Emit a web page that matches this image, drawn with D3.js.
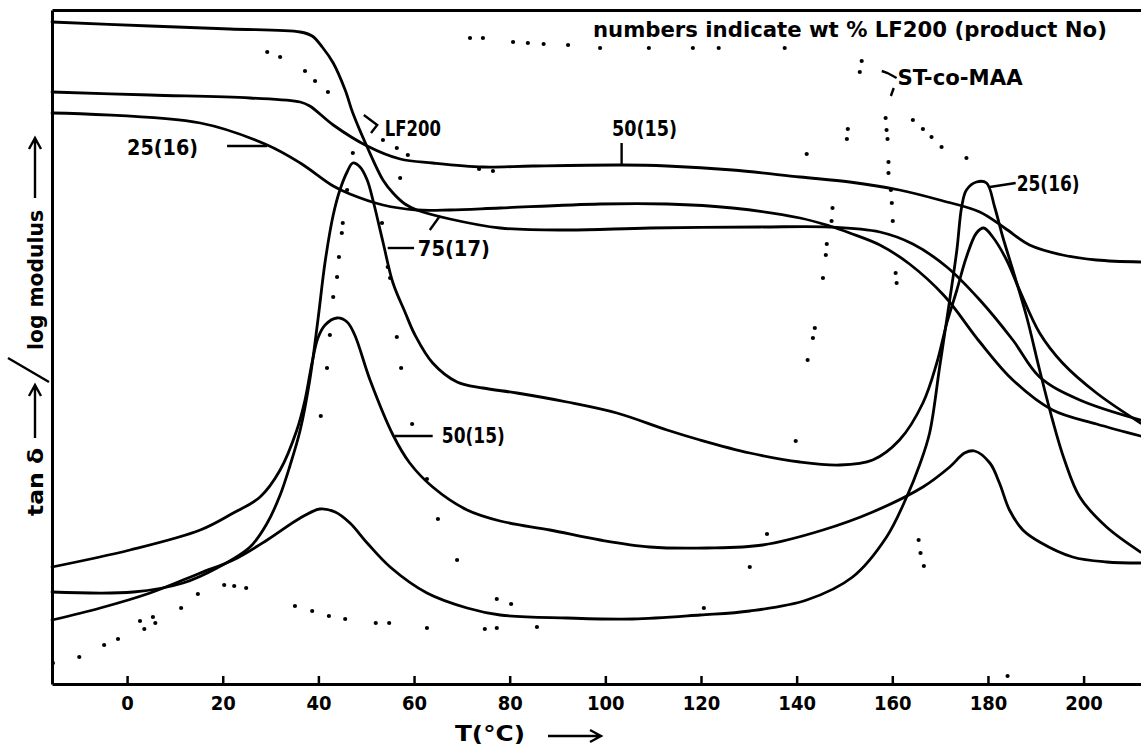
<!DOCTYPE html>
<html lang="en">
<head>
<meta charset="utf-8">
<style>
  body { margin: 0; background: white; }
  svg { display: block; background: white; font-family: 'DejaVu Sans Condensed', 'DejaVu Sans', sans-serif; }
  .curve { fill: none; stroke: black; stroke-width: 2.8px; stroke-linejoin: round; stroke-linecap: round; }
  .dot { fill: black; }
  .frame path.domain { stroke: black; stroke-width: 3px; }
  .frame .tick line { stroke: black; stroke-width: 2.5px; }
  .frame .tick text { font-size: 20px; font-weight: bold; fill: black; font-family: 'DejaVu Sans Condensed', 'DejaVu Sans', sans-serif; }
  .lead { fill: none; stroke: black; stroke-width: 2.4px; }
  .lbl { font-size: 21px; font-weight: bold; fill: black; }
</style>
</head>
<body>
<svg width="1141" height="748"></svg>
<script src="https://cdn.jsdelivr.net/npm/d3@7"></script>
<script>

// temperature (deg C) vs relative height (no y ticks in the original, arbitrary units)
var tickTemps = [0, 20, 40, 60, 80, 100, 120, 140, 160, 180, 200];

// log modulus curves
var mod75 = [[-15.7,66.2],[4.8,65.8],[21.5,65.5],[36.2,65.2],[38.7,64.8],[40.8,63.7],[43.1,62.1],[45.6,59.4],[47.2,57.1],[50.2,53.7],[53.5,50.4],[55.6,49.1],[58.1,48.0],[60.6,47.4],[67.5,46.5],[78.0,45.6],[92.0,45.4],[109.3,45.6],[132.3,45.7],[146.9,45.7],[157.4,45.2],[164.3,44.0],[171.4,41.7],[178.3,38.4],[185.2,34.4],[190.8,30.7],[199.2,28.4],[211.9,26.4]];
var mod50 = [[-15.7,59.2],[4.8,58.9],[25.7,58.6],[36.2,58.2],[38.2,57.8],[43.1,55.9],[50.2,53.8],[57.1,52.5],[63.9,52.1],[74.4,51.7],[84.8,51.8],[103.4,51.9],[112.9,51.8],[126.6,51.4],[140.7,50.7],[151.1,50.2],[161.5,49.4],[169.9,48.4],[178.3,47.2],[183.5,45.6],[188.7,43.9],[195.6,42.9],[202.7,42.4],[211.9,42.2]];
var mod25 = [[-15.7,57.1],[15.3,56.1],[29.3,53.9],[36.2,52.1],[43.1,49.8],[46.6,49.0],[53.5,47.9],[60.6,47.4],[67.5,47.4],[78.0,47.6],[98.9,48.0],[112.9,48.0],[126.6,47.6],[140.7,46.6],[146.9,45.8],[151.1,45.1],[157.4,43.9],[163.6,42.0],[170.9,38.8],[178.3,34.2],[185.2,30.4],[193.5,27.4],[202.7,26.0],[211.9,24.8]];

// tan delta curves
var tan50 = [[-15.7,11.7],[0.6,13.4],[15.3,15.4],[22.2,17.1],[27.8,18.7],[32.0,21.4],[35.5,25.4],[37.2,28.4],[38.7,32.2],[39.9,34.6],[41.4,35.9],[43.9,36.6],[46.0,36.2],[47.6,34.9],[50.8,30.4],[55.6,24.9],[59.1,22.1],[63.9,19.7],[71.1,17.4],[78.0,16.3],[88.4,15.4],[98.9,14.4],[109.3,13.7],[121.2,13.6],[132.9,13.9],[145.5,15.4],[155.9,17.2],[166.4,19.7],[172.0,21.7],[175.1,23.1],[177.2,23.3],[180.4,22.1],[182.4,20.1],[184.5,17.4],[187.3,15.4],[190.8,14.2],[197.7,12.7],[204.8,12.2],[211.9,12.1]];
var tan75 = [[-15.7,9.2],[1.3,9.2],[11.7,10.1],[18.8,11.6],[25.7,13.7],[29.3,16.1],[32.0,18.9],[34.1,21.9],[36.2,25.4],[38.2,30.4],[39.9,36.4],[41.4,42.2],[43.1,46.9],[44.5,49.4],[46.0,51.2],[47.2,52.1],[48.7,51.7],[50.2,50.4],[51.4,48.4],[53.5,44.2],[55.6,40.1],[58.1,37.2],[60.2,34.9],[63.9,32.1],[69.0,30.2],[74.4,29.6],[81.5,29.1],[92.0,28.2],[102.4,27.1],[112.9,25.4],[119.8,24.4],[130.2,23.1],[140.7,22.2],[149.0,21.9],[155.9,22.4],[161.5,24.4],[166.4,28.1],[169.3,32.1],[171.4,36.1],[173.5,39.4],[175.5,42.7],[177.6,45.1],[179.1,45.6],[181.0,44.7],[183.9,42.4],[186.6,39.4],[190.8,35.1],[195.6,32.1],[202.7,29.1],[211.9,26.1]];
var tan25 = [[-15.7,6.4],[-5.6,7.6],[4.8,9.1],[15.3,11.1],[22.2,12.4],[29.3,14.4],[36.2,16.6],[40.3,17.5],[43.5,17.2],[46.6,16.1],[50.2,14.1],[55.0,11.7],[62.7,9.1],[71.1,7.6],[78.0,6.9],[92.0,6.6],[105.7,6.5],[119.8,6.9],[130.2,7.3],[142.1,8.4],[151.7,10.7],[158.8,14.7],[163.0,18.7],[165.7,21.9],[167.8,25.1],[169.9,31.7],[172.0,38.4],[173.5,43.4],[174.5,47.7],[175.5,49.4],[177.6,50.2],[179.7,50.1],[181.4,47.7],[183.1,44.7],[185.2,41.4],[188.1,36.7],[190.8,31.4],[193.5,26.4],[196.0,22.4],[199.2,18.7],[204.8,15.7],[211.9,13.2]];

// dotted curves of the pure components (each dot)
var lf200Dots = [[-15.5,2.1],[-10.0,2.7],[-4.8,3.9],[-1.9,4.5],[2.7,6.3],[3.6,5.5],[5.4,6.7],[5.9,6.1],[11.3,7.6],[14.8,9.0],[20.3,9.9],[22.4,9.8],[24.9,9.6],
  [40.5,26.8],[41.8,31.6],[42.4,34.9],[43.1,38.7],[43.9,40.7],[44.3,42.7],[44.9,45.1],[45.1,46.1],[46.0,49.4],[47.2,53.1],
  [53.3,46.1],[54.5,41.7],[55.0,40.6],[56.4,34.7],[57.3,31.6],[59.6,26.0],[62.7,20.5],[65.0,16.5],[69.0,12.4],[77.3,8.5],[80.3,8.0],
  [29.3,63.2],[32.0,62.7],[37.2,61.3],[39.3,60.3],[42.0,59.2],[53.5,54.4],[56.4,53.6],[58.7,52.9],[57.1,50.6],[73.6,51.5],[76.5,51.3]];
var stmaaDots = [[71.7,64.6],[74.4,64.6],[80.7,64.2],[83.8,64.1],[87.1,64.0],[92.2,63.9],[98.9,63.6],[109.1,63.6],[118.3,63.6],[123.7,63.6],[137.5,63.6],[153.6,62.3],[153.2,61.2],
  [142.1,53.0],[150.7,55.5],[150.5,54.5],[147.5,47.6],[147.3,46.3],[146.3,44.0],[146.1,42.9],[145.5,40.6],[143.8,35.6],[143.4,34.6],[142.3,32.4],[139.8,24.3],[133.8,15.0],[130.2,11.7],[120.6,7.6],
  [35.1,7.8],[38.7,7.3],[42.2,6.8],[45.6,6.5],[52.0,6.1],[54.8,6.1],[62.7,5.6],[74.8,5.5],[77.3,5.6],[85.7,5.7],
  [158.6,56.6],[158.8,55.4],[159.0,54.5],[159.2,52.2],[159.2,51.1],[159.7,49.4],[159.9,48.1],[160.1,46.3],[160.7,41.1],[160.9,40.1],[165.5,14.4],[165.9,13.1],[166.6,11.8],
  [164.3,56.4],[166.4,55.5],[168.2,54.7],[170.3,53.7],[175.5,52.6],[184.1,0.8]];

var curves = [mod75, mod50, mod25, tan50, tan75, tan25];

// annotations
var labels = [
  { text: "numbers indicate wt % LF200 (product No)", T: 97.4, v: 64.7, len: 514 },
  { text: "ST-co-MAA", T: 161.1, v: 59.9, len: 125 },
  { text: "LF200", T: 53.9, v: 54.8, len: 56 },
  { text: "50(15)", T: 101.4, v: 54.8, len: 65 },
  { text: "25(16)", T: 0.0, v: 52.9, len: 71 },
  { text: "75(17)", T: 60.8, v: 42.8, len: 72 },
  { text: "50(15)", T: 65.8, v: 24.1, len: 63 },
  { text: "25(16)", T: 186.0, v: 49.3, len: 63 }
];
var leaders = [
  [[103.4,54.1],[103.4,51.9]],
  [[20.9,53.8],[29.3,53.8]],
  [[49.5,56.9],[52.3,55.9],[51.0,55.1]],
  [[54.5,43.6],[60.0,43.6]],
  [[63.3,45.4],[65.4,46.8]],
  [[56.0,24.8],[63.9,24.8]],
  [[180.4,49.7],[185.8,50.1]],
  [[157.8,61.3],[159.0,61.1],[160.9,60.6]],
  [[160.3,59.6],[159.7,58.8]]
];

var svg = d3.select("svg");

var x = d3.scaleLinear().domain([-15.7, 212]).range([52, 1141]);
var y = d3.scaleLinear().domain([0, 67.4]).range([684, 10]);

var line = d3.line()
    .x(d => x(d[0]))
    .y(d => y(d[1]))
    .curve(d3.curveCatmullRom.alpha(0.5));

svg.append("g")
    .attr("class", "curves")
  .selectAll("path")
  .data(curves)
  .enter().append("path")
    .attr("class", "curve")
    .attr("d", line);

svg.append("g")
    .attr("class", "dots")
  .selectAll("circle")
  .data(lf200Dots.concat(stmaaDots))
  .enter().append("circle")
    .attr("class", "dot")
    .attr("cx", d => x(d[0]))
    .attr("cy", d => y(d[1]))
    .attr("r", 2.1);

// frame: bottom axis with inward ticks, plain left and top lines
svg.append("g")
    .attr("class", "frame")
    .attr("transform", "translate(0," + y(0) + ")")
    .call(d3.axisBottom(x).tickValues(tickTemps).tickSize(-8).tickSizeOuter(0).tickPadding(12));

svg.append("g")
    .attr("class", "frame")
    .attr("transform", "translate(" + x(-15.7) + ",0)")
    .call(d3.axisLeft(y).tickValues([]).tickSizeOuter(0));

svg.append("g")
    .attr("class", "frame")
    .attr("transform", "translate(0," + y(67.4) + ")")
    .call(d3.axisTop(x).tickValues([]).tickSizeOuter(0));

svg.selectAll(".frame .domain").attr("fill", "none");

var plain = d3.line().x(d => x(d[0])).y(d => y(d[1]));

svg.append("g")
  .selectAll("path")
  .data(leaders)
  .enter().append("path")
    .attr("class", "lead")
    .attr("d", plain);

svg.append("g")
  .selectAll("text")
  .data(labels)
  .enter().append("text")
    .attr("class", "lbl")
    .attr("x", d => x(d.T))
    .attr("y", d => y(d.v))
    .attr("textLength", d => d.len)
    .attr("lengthAdjust", "spacingAndGlyphs")
    .text(d => d.text);

// axis titles
function arrow(g, x1, x2, yy) {
  g.append("path").attr("class", "lead")
    .attr("d", "M" + x1 + "," + yy + "H" + x2 + "M" + (x2 - 11) + "," + (yy - 6) + "L" + x2 + "," + yy + "L" + (x2 - 11) + "," + (yy + 6));
}

svg.append("text")
    .attr("class", "lbl")
    .attr("x", 455).attr("y", 741)
    .attr("textLength", 70).attr("lengthAdjust", "spacingAndGlyphs")
    .text("T(°C)");
arrow(svg, 548, 601, 736);

var yl = svg.append("g").attr("transform", "translate(43,0) rotate(-90)");
yl.append("text").attr("class", "lbl")
    .attr("x", -516).attr("y", 0)
    .attr("textLength", 68).attr("lengthAdjust", "spacingAndGlyphs")
    .text("tan δ");
arrow(yl, -438, -385, -8);
yl.append("text").attr("class", "lbl")
    .attr("x", -350).attr("y", 0)
    .attr("textLength", 140).attr("lengthAdjust", "spacingAndGlyphs")
    .text("log modulus");
arrow(yl, -198, -138, -8);

svg.append("path").attr("class", "lead")
    .attr("d", "M8,358L49,382");

</script>
</body>
</html>
